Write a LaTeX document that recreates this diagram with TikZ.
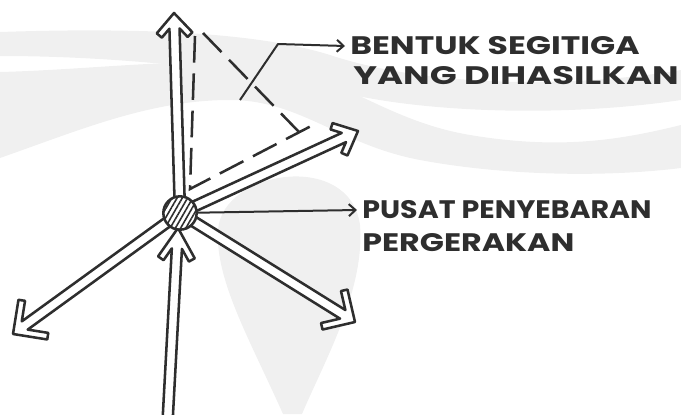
\documentclass[tikz,border=0pt]{standalone}
\usepackage{fontspec}
\usepackage{graphicx}
\newfontfamily\handfont{Poppins}
\usetikzlibrary{calc,arrows.meta,patterns.meta}
\definecolor{ink}{HTML}{2E2E2E}
\definecolor{wmark}{HTML}{F0F0F0}
\def\fat{5}
\def\fah{3.8}
\newcommand\fatarrow[4]{%
  \pgfmathsetmacro\fad{\fat/sin(#3)}%
  \pgfmathsetmacro\faj{\fah/sin(#3)}%
  \pgfmathsetmacro\fal{#4}%
  \pgfmathsetmacro\falb{#4-\fat*cos(#3)/sin(#3)}%
  \coordinate (fc) at ($(#2)!\fad pt!(#1)$);
  \filldraw[fat] ($(#1)!\fah pt!-90:(#2)$) -- ($(fc)!\faj pt!#3:(#1)$) -- ($(fc)!\falb pt!#3:(#1)$) -- ($(#2)!\fal pt!#3:(#1)$) -- (#2) -- ($(#2)!\fal pt!-#3:(#1)$) -- ($(fc)!\falb pt!-#3:(#1)$) -- ($(fc)!\faj pt!-#3:(#1)$) -- ($(#1)!\fah pt!90:(#2)$) -- cycle;}
\tikzset{
  fat/.style={draw=ink, fill=white, line width=1.9pt, line join=round},
  dsh/.style={draw=ink, line width=1.9pt, dash pattern=on 20pt off 8pt},
  thin/.style={draw=ink, line width=1.5pt, line join=round, -{Straight Barb[length=5pt,width=9pt]}},
  lbl/.style={text=ink, inner sep=0pt, outer sep=4pt, anchor=west, font=\handfont\bfseries\fontsize{19}{22}\selectfont},
  hubstyle/.style={circle, minimum size=25pt, inner sep=0pt, draw=ink, line width=1.9pt,
    preaction={fill=white}, pattern={Lines[angle=60,distance=3.4pt,line width=1.2pt]}, pattern color=ink},
}
\begin{document}
\begin{tikzpicture}[x=0.75pt,y=-0.75pt]
\useasboundingbox (0,0) rectangle (681,414);
\clip (0,0) rectangle (681,414);
% faint watermark
\fill[wmark] (0,32) .. controls (120,28) and (250,30) .. (330,55) .. controls (420,85) and (560,90) .. (681,70) -- (681,100) .. controls (560,118) and (420,112) .. (340,92) .. controls (250,70) and (120,56) .. (0,56) -- cycle;
\fill[wmark] (0,72) .. controls (80,70) and (160,60) .. (250,62) .. controls (330,66) and (380,120) .. (470,135) .. controls (560,150) and (620,140) .. (681,125) -- (681,168) .. controls (600,178) and (500,175) .. (420,160) .. controls (340,145) and (300,100) .. (230,100) .. controls (150,100) and (80,130) .. (0,158) -- cycle;
\fill[wmark] (283,414) .. controls (250,340) and (215,280) .. (218,230) .. controls (222,170) and (350,150) .. (360,225) .. controls (365,290) and (325,360) .. (302,414) -- cycle;
% coordinates
\coordinate (hubc) at (180,213);
\coordinate (tipU) at (174,13);
\coordinate (tipUR) at (358,131);
\coordinate (tipDR) at (355,322);
\coordinate (tipDL) at (13,334);
\coordinate (tipB) at (178,228);
\coordinate (srcB) at (166,450);
% dashed triangle
\coordinate (dTop) at (195,36);
\coordinate (dCor) at (190,189);
\coordinate (dEnd) at (315,124);
\coordinate (hTop) at (203,33);
\coordinate (hEnd) at (299,132);
\draw[dsh] (dTop) -- (dCor) -- (dEnd);
\draw[dsh] (hTop) -- (hEnd);
% fat arrows
\fatarrow{hubc}{tipU}{42}{20}
\fatarrow{hubc}{tipUR}{42}{20}
\fatarrow{hubc}{tipDR}{45}{25}
\fatarrow{hubc}{tipDL}{45}{26}
\fatarrow{srcB}{tipB}{32}{26}
% hub
\node[hubstyle] (hub) at (hubc) {};
% labels
\node[lbl] (t1) at (345,46) {\resizebox{217pt}{\height}{BENTUK SEGITIGA}};
\node[lbl] (t2) at (348,76) {\resizebox{244pt}{\height}{YANG DIHASILKAN}};
\node[lbl] (t3) at (357,210) {\resizebox{217pt}{\height}{PUSAT PENYEBARAN}};
\node[lbl] (t4) at (357,243) {\resizebox{159pt}{\height}{PERGERAKAN}};
% leaders
\coordinate (ldA) at (240,100);
\coordinate (ldB) at (278,44);
\draw[thin] (ldA) -- (ldB) -- (t1.west);
\draw[thin] (hub) -- (t3.west);
\end{tikzpicture}
\end{document}
